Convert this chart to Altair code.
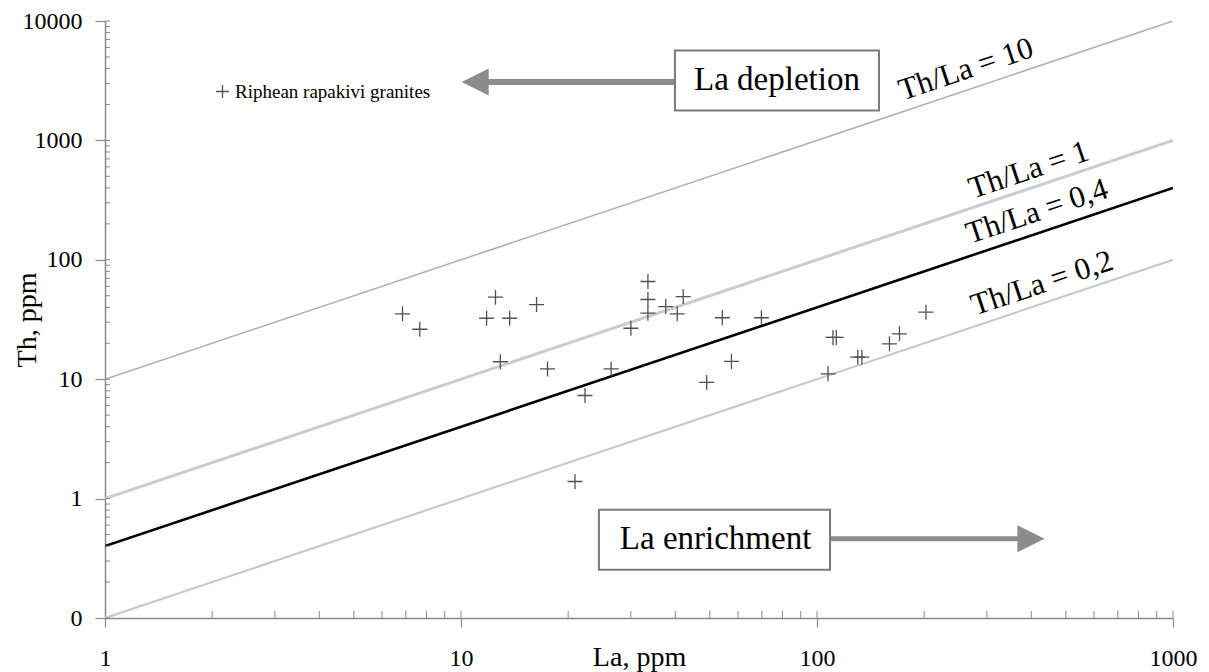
import altair as alt
import pandas as pd

# ---------------- data ----------------
la_values = [6.85, 7.66, 12.5, 11.8, 13.7, 16.3, 12.9, 17.5, 26.4, 22.3,
             30.0, 33.5, 33.5, 33.5, 37.6, 42.1, 40.5, 54.2, 69.8, 57.5,
             49.0, 110.9, 113.3, 107.4, 130.2, 133.7, 159.8, 170.5, 202.4, 20.9]
th_values = [35.3, 26.2, 48.6, 32.4, 32.4, 42.2, 14.0, 12.2, 12.2, 7.3,
             26.7, 65.8, 46.5, 35.7, 40.6, 49.2, 35.3, 32.7, 32.7, 14.1,
             9.4, 22.4, 22.4, 11.1, 15.3, 15.3, 19.8, 24.0, 36.4, 1.39]
series_name = "Riphean rapakivi granites"

ratio_values = [10, 1, 0.4, 0.1]
ratio_colors = ["#adadb5", "#c8ccd7", "#000000", "#c6cad5"]
ratio_widths = [1.5, 3.0, 2.6, 2.2]
line_la_ends = [1, 1000]

label_texts = ["Th/La = 10", "Th/La = 1", "Th/La = 0,4", "Th/La = 0,2"]
label_la = [174, 274, 269, 278]
label_th = [2163, 325, 136, 34.1]

box_texts = ["La depletion", "La enrichment"]
box_la = [39.9, 24.4]
box_la2 = [149.3, 108.8]
box_th = [5675, 0.807]
box_th2 = [1784, 0.2535]
box_text_la = [77.2, 51.9]
box_text_th = [3185, 0.46]

arrow_la_start = [39.9, 108.8]
arrow_la_head = [10.96, 399]
arrow_th = [3082, 0.461]

x_tick_values = [1, 10, 100, 1000]
y_tick_values = [0.1, 1, 10, 100, 1000, 10000]
x_minor = [k * 10 ** e for e in range(0, 3) for k in range(2, 10)]
y_minor = [k * 10.0 ** e for e in range(-1, 4) for k in range(2, 10)]

# ---------------- styling ----------------
W, H = 1068, 597
SERIF = "Liberation Serif"
AX = "#8a8a8a"
ARROW = "#8c8c8c"
PLUS = "M-1,0L1,0M0,-1L0,1"

xscale = alt.Scale(type="log", domain=[1, 1000], nice=False)
yscale = alt.Scale(type="log", domain=[0.1, 10000], nice=False)

x_axis = alt.Axis(values=x_tick_values, labelExpr="format(datum.value, 'd')",
                  grid=False, tickSize=9, labelPadding=38, labelBaseline="alphabetic",
                  labelFont=SERIF, labelFontSize=24, labelColor="black",
                  labelFlush=False, labelOverlap=False,
                  domainColor=AX, domainWidth=1.5, tickColor=AX, tickWidth=1.2,
                  title="La, ppm", titleFont=SERIF, titleFontSize=28,
                  titleFontWeight="normal", titleColor="black",
                  titleBaseline="alphabetic", titleY=47)
y_axis = alt.Axis(values=y_tick_values,
                  labelExpr="datum.value < 0.5 ? '0' : format(datum.value, 'd')",
                  grid=False, tickSize=10, labelPadding=13,
                  labelFont=SERIF, labelFontSize=24, labelColor="black",
                  labelFlush=False, labelOverlap=False,
                  domainColor=AX, domainWidth=1.5, tickColor=AX, tickWidth=1.2,
                  title="Th, ppm", titleFont=SERIF, titleFontSize=28,
                  titleFontWeight="normal", titleColor="black",
                  titleAngle=270, titleAlign="center", titleBaseline="alphabetic",
                  titleX=-70, titleY=H / 2)


def X(field="La"):
    return alt.X(f"{field}:Q", scale=xscale, axis=x_axis)


def Y(field="Th"):
    return alt.Y(f"{field}:Q", scale=yscale, axis=y_axis)


layers = []

# ratio lines
for r, c, w in zip(ratio_values, ratio_colors, ratio_widths):
    df = pd.DataFrame({"La": line_la_ends, "Th": [r * v for v in line_la_ends]})
    layers.append(alt.Chart(df).mark_line(color=c, strokeWidth=w, clip=True).encode(x=X(), y=Y()))

# minor / inner ticks
xt = pd.DataFrame({"La": x_minor + x_tick_values[1:]})
layers.append(alt.Chart(xt).mark_rule(color=AX, strokeWidth=1).encode(
    x=X(), y=alt.value(H), y2=alt.value(H - 7)))
yt = pd.DataFrame({"Th": y_minor + y_tick_values})
layers.append(alt.Chart(yt).mark_rule(color=AX, strokeWidth=1).encode(
    y=Y(), x=alt.value(0), x2=alt.value(5)))

# arrows shafts
arr = pd.DataFrame({"La": arrow_la_start, "La2": arrow_la_head, "Th": arrow_th})
layers.append(alt.Chart(arr.iloc[[0]]).mark_rule(color=ARROW, strokeWidth=6).encode(
    x=X(), x2="La2:Q", y=Y()))
layers.append(alt.Chart(arr.iloc[[1]]).mark_rule(color=ARROW, strokeWidth=5).encode(
    x=X(), x2="La2:Q", y=Y()))
# arrow heads
hd = pd.DataFrame({"La": arrow_la_head, "Th": arrow_th})
layers.append(alt.Chart(hd.iloc[[0]]).mark_point(
    shape="M-1,0L1,-1L1,1Z", filled=True, color=ARROW, opacity=1, size=729, strokeWidth=0
).encode(x=X(), y=Y()))
layers.append(alt.Chart(hd.iloc[[1]]).mark_point(
    shape="M1,0L-1,-1L-1,1Z", filled=True, color=ARROW, opacity=1, size=740, strokeWidth=0
).encode(x=X(), y=Y()))

# boxes
bx = pd.DataFrame({"La": box_la, "La2": box_la2, "Th": box_th, "Th2": box_th2})
layers.append(alt.Chart(bx).mark_rect(fill="white", stroke="#7a7a7a", strokeWidth=2).encode(
    x=X(), x2="La2:Q", y=Y(), y2="Th2:Q"))
bt = pd.DataFrame({"La": box_text_la, "Th": box_text_th, "t": box_texts})
layers.append(alt.Chart(bt).mark_text(font=SERIF, fontSize=33, color="black",
                                      align="center", baseline="middle").encode(
    x=X(), y=Y(), text="t:N"))

# line labels
lt = pd.DataFrame({"La": label_la, "Th": label_th, "t": label_texts})
layers.append(alt.Chart(lt).mark_text(font=SERIF, fontSize=31, color="black",
                                      align="left", baseline="alphabetic", angle=341.5).encode(
    x=X(), y=Y(), text="t:N"))

# data points
pts = pd.DataFrame({"La": la_values, "Th": th_values, "series": series_name})
layers.append(alt.Chart(pts).mark_point(
    filled=False, stroke="#505050", strokeWidth=1.3, size=225, opacity=1
).encode(
    x=X(), y=Y(),
    shape=alt.Shape("series:N", scale=alt.Scale(range=[PLUS]),
                    legend=alt.Legend(title=None, orient="none", legendX=108, legendY=61,
                                      labelFont=SERIF, labelFontSize=19, labelColor="black",
                                      labelLimit=0,
                                      symbolSize=169, symbolStrokeWidth=1.3,
                                      symbolStrokeColor="#505050",
                                      symbolFillColor="transparent",
                                      labelOffset=3, padding=0))
))

chart = alt.layer(*layers).properties(
    width=W, height=H,
    autosize="none",
    padding={"left": 97, "top": 13, "right": 28, "bottom": 54},
    background="white",
).configure_view(stroke=None)

chart.save("out.html", embed_options={"renderer": "svg", "actions": False})
